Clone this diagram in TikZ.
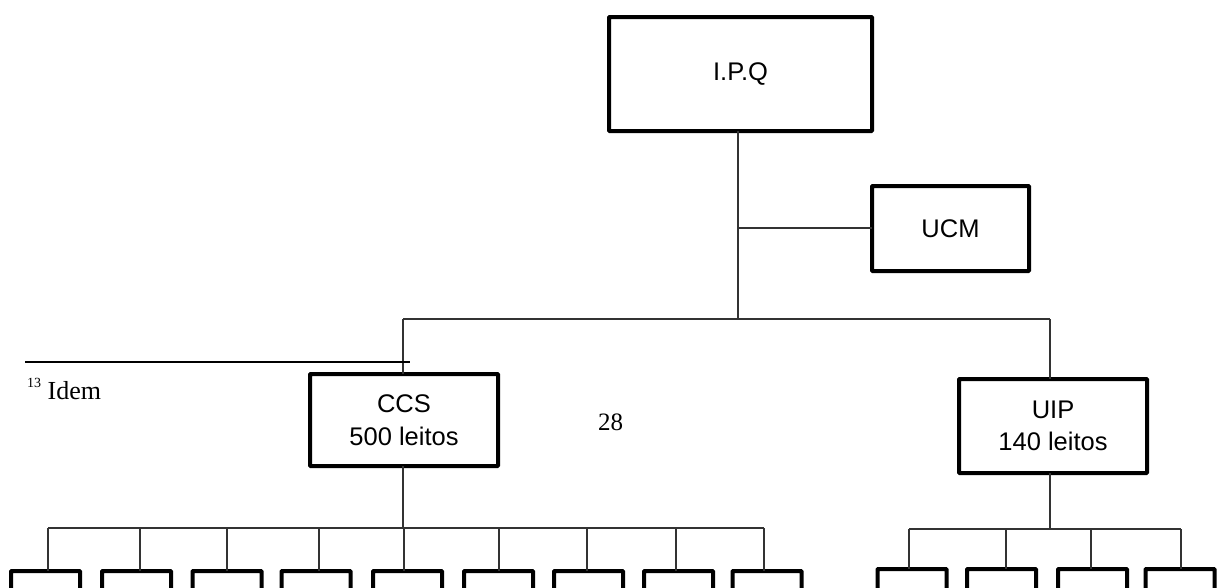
\documentclass[tikz,border=0pt]{standalone}
\usepackage{fontspec}
\setmainfont{Liberation Serif}
\newfontfamily\boxfont{Liberation Sans}
\begin{document}
\begin{tikzpicture}[x=1pt,y=-1pt,
  box/.style={draw, line width=4pt, inner sep=0pt, outer sep=0pt, align=center,
    font=\boxfont\fontsize{25.5}{32.5}\selectfont, rounded corners=0.8pt},
  leaf/.style={box, minimum width=69, minimum height=100},
  conn/.style={line width=1.3pt, black!80}]
\useasboundingbox (0,0) rectangle (1219,587);
\clip (0,0) rectangle (1219,587);

\node[box, minimum width=263, minimum height=114] (ipq) at (740.5,74) {I.P.Q};
\node[box, minimum width=157, minimum height=85] (ucm) at (950.5,228.5) {UCM};
\node[box, minimum width=188, minimum height=92] (ccs) at (404,420) {CCS\\500 leitos};
\node[box, minimum width=188, minimum height=94] (uip) at (1053,426) {UIP\\140 leitos};

\coordinate (jtop) at (738,319);
\coordinate (jucm) at (738,228);
\coordinate (jccs) at (403,319);
\coordinate (juip) at (1050,319);
\draw[conn] (ipq.south -| jtop) -- (jtop);
\draw[conn] (jucm) -- (ucm.west |- jucm);
\draw[conn] (jccs) -- (juip);
\draw[conn] (jccs) -- (ccs.north -| jccs);
\draw[conn] (juip) -- (uip.north -| juip);

\foreach \c/\d [count=\i] in {45.5/48, 136.5/140, 227/227, 316/319, 407.5/404, 498.5/499, 588.5/587, 678.5/676, 767/764} {
  \node[leaf] (c\i) at (\c,621) {};
  \coordinate (cd\i) at (\d,528);
  \draw[conn] (cd\i) -- (c\i.north -| cd\i);
}
\draw[conn] (cd1) -- (cd9);
\draw[conn] (ccs.south -| jccs) -- (jccs |- cd1);

\foreach \c/\d [count=\i] in {912/909, 1001.5/1006, 1092.5/1091, 1180/1181} {
  \node[leaf] (u\i) at (\c,619) {};
  \coordinate (ud\i) at (\d,529);
  \draw[conn] (ud\i) -- (u\i.north -| ud\i);
}
\draw[conn] (ud1) -- (ud4);
\draw[conn] (uip.south -| juip) -- (juip |- ud1);

\coordinate (fn1) at (25,362);
\coordinate (fn2) at (410,362);
\draw[line width=2pt] (fn1) -- (fn2);
\node[anchor=base west, inner sep=0pt, font=\fontsize{26}{28}\selectfont] (fn) at (27,399)
  {\raisebox{12pt}{\fontsize{14}{14}\selectfont 13} Idem};
\node[anchor=base, inner sep=0pt, font=\fontsize{25}{28}\selectfont] (pg) at (610.5,430) {28};
\end{tikzpicture}
\end{document}
